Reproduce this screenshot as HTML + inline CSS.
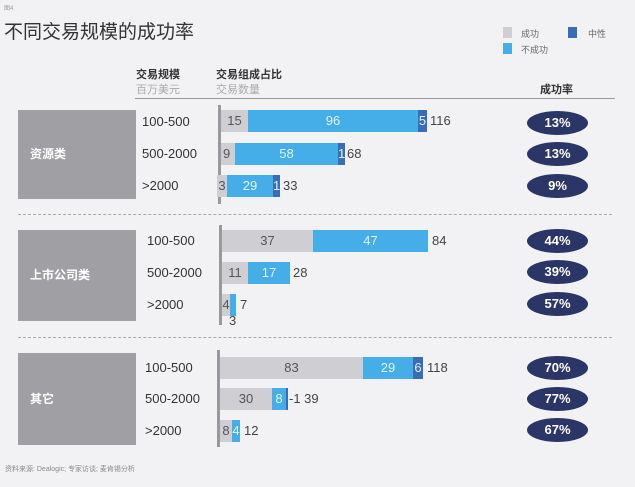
<!DOCTYPE html>
<html><head><meta charset="utf-8"><style>
body{margin:0;width:635px;height:487px;background:#f2f2f4;position:relative;overflow:hidden;font-family:"Liberation Sans","Noto Sans CJK SC",sans-serif;}
div{position:absolute;box-sizing:border-box;}
.t{white-space:nowrap;}
.g{background:#cfcfd3;}.l{background:#45aee8;}.d{background:#3b6db5;}
.bar{height:22px;font-size:13px;line-height:22px;text-align:center;color:#555;}
.l.bar,.d.bar{color:#dff2ff;}
.rng{font-size:13px;color:#333;}
.val{font-size:13px;color:#444;line-height:22px;}
.cat{background:#a0a0a4;color:#fff;font-size:12px;font-weight:bold;padding-left:12px;}
.ax{width:3px;background:#999;}
.dash{height:0;border-top:1px dashed #aaa;left:18px;width:594px;}
.el{left:527px;width:61px;height:24px;border-radius:50%;background:#2b3566;color:#fff;font-weight:bold;font-size:13px;line-height:24px;text-align:center;}
</style></head><body>
<div class="t" style="left:4px;top:3px;font-size:6px;color:#999">图4</div>
<div class="t" style="left:4px;top:17px;font-size:19px;color:#333">不同交易规模的成功率</div>
<div class="g" style="left:503px;top:27px;width:9px;height:11px"></div>
<div class="t" style="left:521px;top:27px;font-size:9px;color:#666">成功</div>
<div class="d" style="left:568px;top:27px;width:9px;height:11px"></div>
<div class="t" style="left:588px;top:27px;font-size:9px;color:#666">中性</div>
<div class="l" style="left:503px;top:43px;width:9px;height:11px"></div>
<div class="t" style="left:521px;top:43px;font-size:9px;color:#666">不成功</div>
<div class="t" style="left:136px;top:66px;font-size:11px;font-weight:bold;color:#333">交易规模</div>
<div class="t" style="left:136px;top:81px;font-size:11px;color:#aaa">百万美元</div>
<div class="t" style="left:216px;top:66px;font-size:11px;font-weight:bold;color:#333">交易组成占比</div>
<div class="t" style="left:216px;top:81px;font-size:11px;color:#aaa">交易数量</div>
<div class="t" style="left:540px;top:81px;font-size:11px;font-weight:bold;color:#333">成功率</div>
<div style="left:135px;top:98px;width:480px;height:1px;background:#999"></div>

<!-- group 1 -->
<div class="cat" style="left:18px;top:110px;width:118px;height:89px;line-height:89px">资源类</div>
<div class="t rng" style="left:142px;top:114px">100-500</div>
<div class="t rng" style="left:142px;top:146px">500-2000</div>
<div class="t rng" style="left:142px;top:178px">&gt;2000</div>
<div class="ax" style="left:218px;top:105px;height:99px"></div>
<div class="bar g" style="left:221px;top:110px;width:27px">15</div>
<div class="bar l" style="left:248px;top:110px;width:170px">96</div>
<div class="bar d" style="left:418px;top:110px;width:9px">5</div>
<div class="t val" style="left:430px;top:110px">116</div>
<div class="bar g" style="left:221px;top:143px;width:14px;text-align:left;padding-left:2px">9</div>
<div class="bar l" style="left:235px;top:143px;width:103px">58</div>
<div class="bar d" style="left:338px;top:143px;width:7px">1</div>
<div class="t val" style="left:347px;top:143px">68</div>
<div class="bar g" style="left:217px;top:175px;width:10px">3</div>
<div class="bar l" style="left:227px;top:175px;width:46px">29</div>
<div class="bar d" style="left:273px;top:175px;width:7px">1</div>
<div class="t val" style="left:283px;top:175px">33</div>
<div class="el" style="top:111px">13%</div>
<div class="el" style="top:142px">13%</div>
<div class="el" style="top:174px">9%</div>
<div class="dash" style="top:214px"></div>

<!-- group 2 -->
<div class="cat" style="left:18px;top:230px;width:118px;height:91px;line-height:91px">上市公司类</div>
<div class="t rng" style="left:147px;top:233px">100-500</div>
<div class="t rng" style="left:147px;top:265px">500-2000</div>
<div class="t rng" style="left:147px;top:297px">&gt;2000</div>
<div class="ax" style="left:219px;top:225px;height:100px"></div>
<div class="bar g" style="left:222px;top:230px;width:91px">37</div>
<div class="bar l" style="left:313px;top:230px;width:115px">47</div>
<div class="t val" style="left:432px;top:230px">84</div>
<div class="bar g" style="left:222px;top:262px;width:26px">11</div>
<div class="bar l" style="left:248px;top:262px;width:42px">17</div>
<div class="t val" style="left:293px;top:262px">28</div>
<div class="bar g" style="left:222px;top:294px;width:8px">4</div>
<div class="bar l" style="left:230px;top:294px;width:6px"></div>
<div class="t val" style="left:240px;top:294px">7</div>
<div class="t val" style="left:229px;top:310px">3</div>
<div class="el" style="top:229px">44%</div>
<div class="el" style="top:260px">39%</div>
<div class="el" style="top:292px">57%</div>
<div class="dash" style="top:337px"></div>

<!-- group 3 -->
<div class="cat" style="left:18px;top:353px;width:118px;height:92px;line-height:92px">其它</div>
<div class="t rng" style="left:145px;top:360px">100-500</div>
<div class="t rng" style="left:145px;top:391px">500-2000</div>
<div class="t rng" style="left:145px;top:423px">&gt;2000</div>
<div class="ax" style="left:217px;top:350px;height:97px"></div>
<div class="bar g" style="left:220px;top:357px;width:143px">83</div>
<div class="bar l" style="left:363px;top:357px;width:50px">29</div>
<div class="bar d" style="left:413px;top:357px;width:10px">6</div>
<div class="t val" style="left:427px;top:357px">118</div>
<div class="bar g" style="left:220px;top:388px;width:52px">30</div>
<div class="bar l" style="left:272px;top:388px;width:14px">8</div>
<div class="bar d" style="left:286px;top:388px;width:2px"></div>
<div class="t val" style="left:289px;top:388px">-1 39</div>
<div class="bar g" style="left:220px;top:420px;width:12px">8</div>
<div class="bar l" style="left:232px;top:420px;width:8px">4</div>
<div class="t val" style="left:244px;top:420px">12</div>
<div class="el" style="top:356px">70%</div>
<div class="el" style="top:387px">77%</div>
<div class="el" style="top:418px">67%</div>

<div class="t" style="left:5px;top:464px;font-size:7px;color:#888">资料来源: Dealogic; 专家访谈; 麦肯锡分析</div>
</body></html>
